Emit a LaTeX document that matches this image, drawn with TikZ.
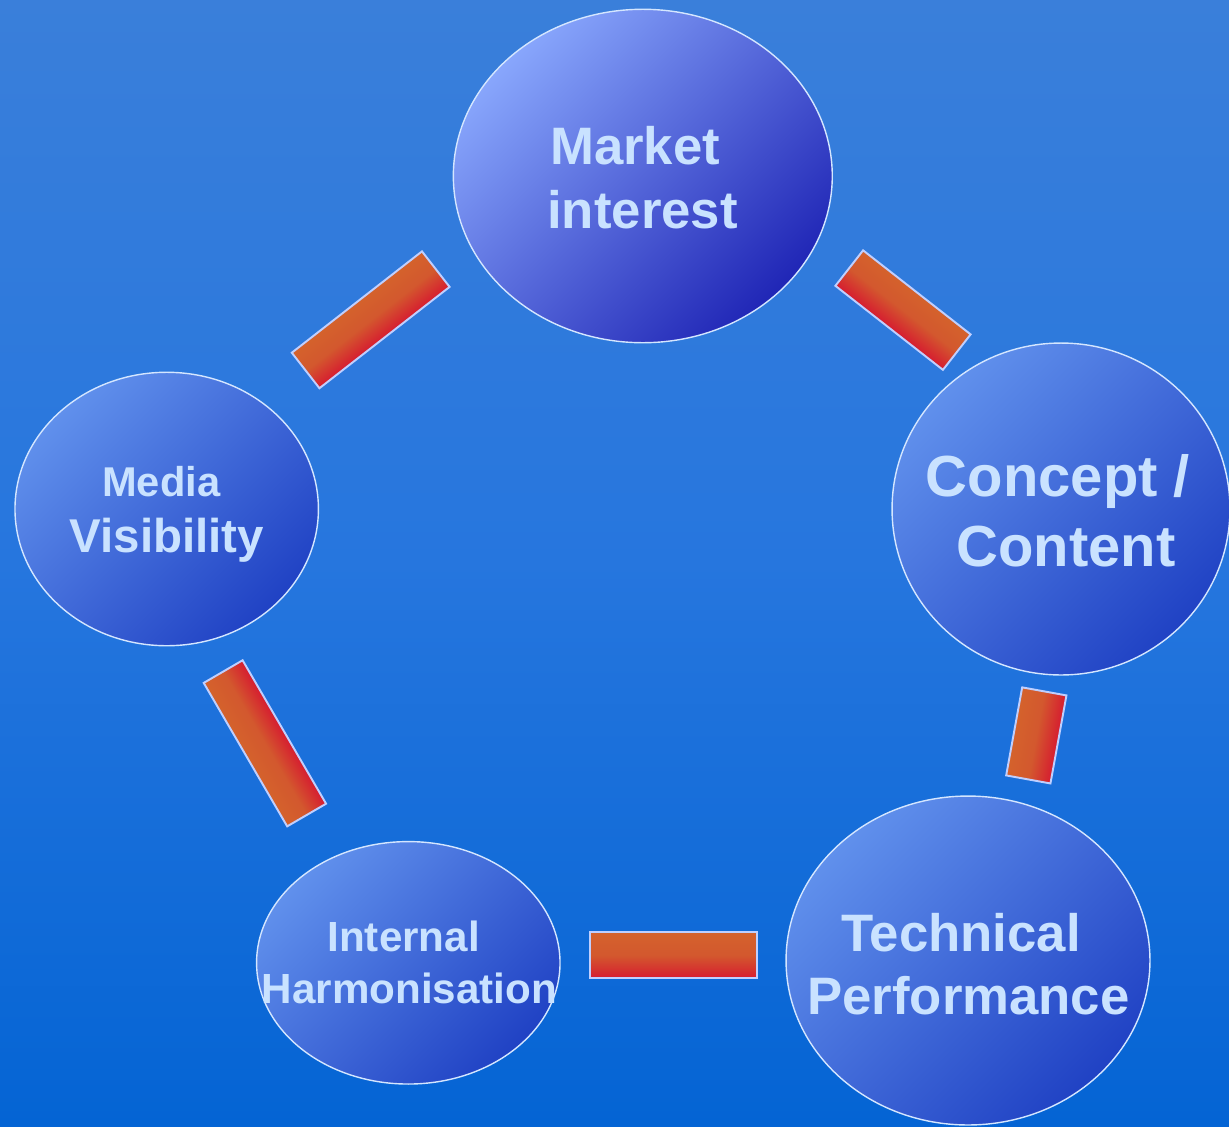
\documentclass[tikz,border=0pt]{standalone}
\usepackage{fontspec}
\setmainfont{Liberation Sans}
\usetikzlibrary{shapes.geometric}
\definecolor{bgtop}{HTML}{3A7FDA}
\definecolor{bgmid}{HTML}{2676DE}
\definecolor{bgbot}{HTML}{0464D4}
\definecolor{balllight}{HTML}{6090EC}
\definecolor{balldark}{HTML}{2042C4}
\definecolor{marketlight}{HTML}{88A6FC}
\definecolor{marketdark}{HTML}{2026B6}
\definecolor{barorange}{HTML}{D4622C}
\definecolor{barmid}{HTML}{D3582E}
\definecolor{barred}{HTML}{D61C30}
\definecolor{rimwhite}{HTML}{D4E6FF}
\definecolor{labelblue}{HTML}{C9E2FF}
\begin{document}
\begin{tikzpicture}[x=0.02cm,y=-0.02cm,
  bubble/.style={ellipse, draw=rimwhite, line width=0.8pt, inner sep=0pt,
    top color=balllight, bottom color=balldark, shading angle=45},
  linkbar/.style={rectangle, draw=rimwhite!90!blue, line width=1.1pt, inner sep=0pt,
    top color=barorange, bottom color=barred, middle color=barmid, minimum height=0.9cm},
  bubbletext/.style={align=center, text=labelblue, font=\bfseries, inner sep=0pt}]
\useasboundingbox (0,0) rectangle (1229,1126);
\shade[top color=bgtop, bottom color=bgbot, middle color=bgmid] (0,0) rectangle (1229,1126);

\begin{scope}[transform canvas={shift={(370.7,319.8)}, rotate=37.9}]
\node[linkbar, minimum width=3.30cm] (bar-media-market) at (0,0) {};
\end{scope}
\begin{scope}[transform canvas={shift={(903,310.1)}, rotate=-38}]
\node[linkbar, minimum width=2.73cm] (bar-market-concept) at (0,0) {};
\end{scope}
\begin{scope}[transform canvas={shift={(1036.3,735.4)}, rotate=79.7}]
\node[linkbar, minimum width=1.79cm] (bar-concept-technical) at (0,0) {};
\end{scope}
\node[linkbar, minimum width=3.33cm, minimum height=0.92cm] (bar-technical-internal) at (673.3,955.3) {};
\begin{scope}[transform canvas={shift={(264.9,743.3)}, rotate=120.2}]
\node[linkbar, minimum width=3.32cm] (bar-internal-media) at (0,0) {};
\end{scope}

\node[bubble, minimum width=7.58cm, minimum height=6.67cm,
  top color=marketlight, bottom color=marketdark, shading angle=45] (market) at (642.8,176) {};
\node[bubble, minimum width=6.76cm, minimum height=6.64cm] (concept) at (1061,509) {};
\node[bubble, minimum width=7.28cm, minimum height=6.58cm] (technical) at (968,960.5) {};
\node[bubble, minimum width=6.07cm, minimum height=4.85cm] (internal) at (408.3,962.8) {};
\node[bubble, minimum width=6.07cm, minimum height=5.47cm] (media) at (166.7,509) {};

\node[bubbletext, font=\bfseries\fontsize{30}{36}\selectfont] (market-text) at (642.5,177.7)
  {Market\hspace*{.278em}\\interest};
\node[bubbletext, font=\bfseries\fontsize{33}{39.8}\selectfont] (concept-text) at (1066,510.5)
  {Concept /\hspace*{.278em}\\Content};
\node[bubbletext, font=\bfseries\fontsize{30}{36}\selectfont] (technical-text) at (968.5,964.3)
  {Technical\hspace*{.278em}\\Performance};
\node[bubbletext, font=\bfseries\fontsize{24}{29.8}\selectfont] (internal-text) at (409.5,962.7)
  {Internal\hspace*{.278em}\\Harmonisation};
\node[bubbletext, font=\bfseries\fontsize{23.7}{31.9}\selectfont] (media-text) at (167,514.7)
  {Media\hspace*{.278em}\\{\fontsize{27}{31.9}\selectfont Visibility}};
\end{tikzpicture}
\end{document}
